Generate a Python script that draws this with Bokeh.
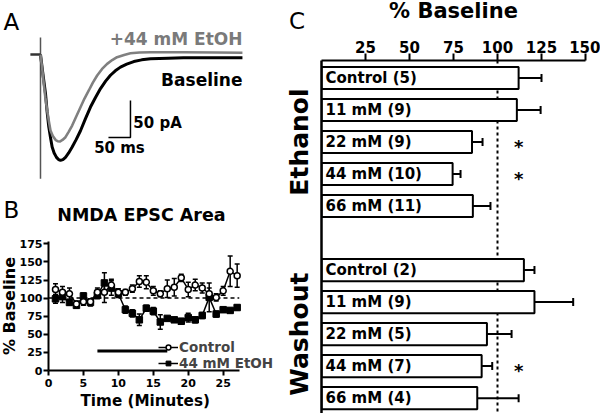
import math
from bokeh.plotting import figure
from bokeh.models import (Range1d, Label, Whisker, TeeHead, ColumnDataSource,
                          FixedTicker, Legend, LegendItem, Span, Title)
from bokeh.layouts import row, column
from bokeh.embed import file_html
from bokeh.resources import INLINE
from bokeh.core.properties import value

FONT = "DejaVu Sans"

# ---------------- Panel A data: EPSC traces, time (ms) / current (pA)
etoh_t = [0, 4, 7.5, 11, 15.2, 19, 22.7, 28, 34.1, 39, 43.9, 50, 56.8, 64, 72, 81, 90.9, 100, 109.8, 119, 128.8, 140, 151.5, 163, 174, 190, 204.5, 225, 250, 290, 325, 400, 459]
etoh_i = [0, -20, -39.6, -58, -75.7, -90, -102.7, -110, -115.3, -117.2, -117.6, -115.5, -111.7, -104.5, -96, -84, -71.2, -59.5, -48.6, -38, -28.4, -19.5, -12.6, -7.5, -3.6, -0.5, 1.8, 2.8, 3.1, 3.1, 3.1, 2.7, 2.3]
base_t = [0, 5, 11.4, 15, 18.9, 23, 26.5, 31, 36.4, 41, 45.5, 51, 56.8, 64, 72, 81, 90.9, 102, 113.6, 125, 136.4, 148, 159, 170, 181.8, 196, 212, 230, 250, 290, 325, 400, 459]
base_i = [0, -24, -53, -77, -98, -113, -125, -133, -139, -142, -143, -142, -139, -133, -125, -115, -103, -87, -71, -58, -46, -36, -28, -22, -17, -13, -9.5, -7.2, -5.8, -5, -4.5, -4.5, -4.5]
artifact_t = 0
artifact_top, artifact_bottom = 23, -168
prestim_t = [-23, 0]
prestim_i = [0, 0]
scale_ms, scale_pa = 50, 50

# ---------------- Panel B data: NMDA EPSC area (% baseline) vs time (min)
minutes = list(range(1, 28))
ctrl_mean = [112, 108, 106, 92, 95, 95, 108, 108, 118, 108, 108, 113, 123, 122, 110, 106, 113, 115, 128, 112, 118, 114, 106, 101, 110, 137, 131]
ctrl_sem = [8, 8, 8, 4, 5, 4, 6, 14, 8, 5, 4, 5, 8, 9, 6, 4, 12, 12, 5, 10, 8, 7, 8, 5, 6, 21, 16]
etoh_mean = [99, 102, 94, 90, 103, 94, 104, 121, 114, 106, 84, 79, 70, 86, 82, 67, 72, 70, 68, 73, 70, 76, 101, 78, 84, 83, 87]
etoh_sem = [6, 8, 4, 4, 4, 5, 5, 14, 10, 5, 5, 5, 8, 4, 5, 10, 3, 3, 4, 6, 4, 4, 20, 4, 3, 3, 3]
bath_on, bath_off, bath_level = 7, 17, 27
b_xmax = 27.3
b_yticks = [0, 25, 50, 75, 100, 125, 150, 175]
b_xticks = [0, 5, 10, 15, 20, 25]

# ---------------- Panel C data: % baseline by concentration
eth_labels = ["Control (5)", "11 mM (9)", "22 mM (9)", "44 mM (10)", "66 mM (11)"]
eth_mean = [112, 111, 85.5, 74.5, 86]
eth_sem = [13, 13.5, 6, 4.5, 10]
eth_sig = [False, False, True, True, False]
wash_labels = ["Control (2)", "11 mM (9)", "22 mM (5)", "44 mM (7)", "66 mM (4)"]
wash_mean = [115, 121, 94, 91, 88.5]
wash_sem = [6, 22, 14, 6, 23.5]
wash_sig = [False, False, False, True, False]
c_xticks = [25, 50, 75, 100, 125, 150]


def clean(p):
    p.outline_line_color = None
    p.grid.visible = False
    p.background_fill_color = "white"
    p.border_fill_color = "white"


def lab(p, x, y, text, size, bold=True, align="left", angle=0, color="black"):
    p.add_layout(Label(x=x, y=y, text=text, text_font=FONT, text_font_size=size,
                       text_font_style="bold" if bold else "normal", text_align=align,
                       text_baseline="middle", angle=angle, text_color=color))


def style_axis(ax, size, tick_out, standoff):
    ax.axis_line_width = 2
    ax.major_tick_line_width = 2
    ax.major_tick_out = tick_out
    ax.major_tick_in = 0
    ax.minor_tick_line_color = None
    ax.major_label_text_font = FONT
    ax.major_label_text_font_style = "bold"
    ax.major_label_text_font_size = size
    ax.major_label_standoff = standoff
    ax.major_label_text_color = "black"


# ================= Panel A (also holds the "B" letter and panel B title)
pa = figure(width=280, height=228, output_backend="svg", toolbar_location=None,
            x_range=Range1d(-90.9, 545.5), y_range=Range1d(-235.1, 73.0),
            x_axis_location=None, y_axis_location=None, min_border=0, frame_align=False)
clean(pa)
pa.segment(x0=[artifact_t], y0=[artifact_top], x1=[artifact_t], y1=[artifact_bottom],
           line_color="#555555", line_width=1.5)
pa.line(prestim_t, prestim_i, line_color="#333333", line_width=2.5)
pa.line(base_t, base_i, line_color="black", line_width=3)
pa.line(etoh_t, etoh_i, line_color="#808080", line_width=2.6)
sb_t, sb_i = 204.5, -112.2
pa.line([sb_t - scale_ms, sb_t, sb_t], [sb_i, sb_i, sb_i + scale_pa], line_color="black", line_width=1.5)
lab(pa, -84, 44.6, "A", "23px", bold=False)
lab(pa, 459, 20.3, "+44 mM EtOH", "17px", align="right", color="#7a7a7a")
lab(pa, 459, -33.8, "Baseline", "17px", align="right")
lab(pa, 211, -93.2, "50 pA", "15px")
lab(pa, 179.5, -126, "50 ms", "15px", align="center")
lab(pa, -84, -209.5, "B", "23px", bold=False)
lab(pa, 229.5, -216.2, "NMDA EPSC Area", "17.5px", align="center")

# ================= Panel B
pb = figure(width=280, height=185, output_backend="svg", toolbar_location=None,
            x_range=Range1d(0, 32.63), y_range=Range1d(0, 178.2),
            min_border_left=43, min_border_right=4, min_border_top=13, min_border_bottom=43,
            frame_align=False)
clean(pb)
pb.xaxis.ticker = FixedTicker(ticks=b_xticks)
pb.yaxis.ticker = FixedTicker(ticks=b_yticks)
pb.xaxis.bounds = (0, b_xmax)
style_axis(pb.xaxis[0], "11px", 5, 3)
style_axis(pb.yaxis[0], "11px", 5, 1)
pb.add_layout(Title(text="Time (Minutes)", align="left", offset=32, standoff=0,
                    text_font=FONT, text_font_style="bold", text_font_size="15.2px",
                    text_color="black"), "below")
pb.add_layout(Title(text="% Baseline", align="center", offset=13, standoff=-5,
                    text_font=FONT, text_font_style="bold", text_font_size="16px",
                    text_color="black"), "left")
pb.line([0, b_xmax], [100, 100], line_color="black", line_width=1.5, line_dash="4 3")
pb.line([bath_on, bath_off], [bath_level, bath_level], line_color="black", line_width=3)

src_c = ColumnDataSource(dict(t=minutes, m=ctrl_mean,
                              lo=[m - s for m, s in zip(ctrl_mean, ctrl_sem)],
                              hi=[m + s for m, s in zip(ctrl_mean, ctrl_sem)]))
src_e = ColumnDataSource(dict(t=minutes, m=etoh_mean,
                              lo=[m - s for m, s in zip(etoh_mean, etoh_sem)],
                              hi=[m + s for m, s in zip(etoh_mean, etoh_sem)]))
for src in (src_e, src_c):
    pb.add_layout(Whisker(source=src, base="t", lower="lo", upper="hi", line_width=1.5,
                          line_color="black",
                          upper_head=TeeHead(size=5, line_width=1.5, line_color="black"),
                          lower_head=TeeHead(size=5, line_width=1.5, line_color="black")))
el = pb.line("t", "m", source=src_e, line_color="black", line_width=1.5)
es = pb.scatter("t", "m", source=src_e, marker="square", size=6.5, fill_color="black", line_color="black")
cl = pb.line("t", "m", source=src_c, line_color="black", line_width=1.5)
cs = pb.scatter("t", "m", source=src_c, marker="circle", size=6, fill_color="white",
                line_color="black", line_width=1.5)
legend = Legend(items=[LegendItem(label="Control", renderers=[cl, cs]),
                       LegendItem(label="44 mM EtOH", renderers=[el, es])],
                location=(110, -1), border_line_color=None, background_fill_alpha=0,
                padding=0, margin=0, spacing=0, glyph_width=20, glyph_height=12,
                label_height=12, label_standoff=1, label_text_font=FONT,
                label_text_font_style="bold", label_text_font_size="13.5px")
pb.add_layout(legend)

# ================= Panel C header ("C" and the axis title)
ppx = 264 / 150.0
pch = figure(width=320, height=33, output_backend="svg", toolbar_location=None,
             x_range=Range1d(-41 / ppx, 279 / ppx), y_range=Range1d(33, 0),
             x_axis_location=None, y_axis_location=None, min_border=0, frame_align=False)
clean(pch)
lab(pch, -18.5, 20.5, "C", "23px", bold=False)
lab(pch, 75, 10.5, "% Baseline", "21px", align="center")

# ================= Panel C body
pc = figure(width=320, height=380, output_backend="svg", toolbar_location=None,
            x_range=Range1d(0, 150), y_range=Range1d(10.48, -0.547),
            x_axis_location="above", frame_align=False,
            min_border_left=41, min_border_right=15, min_border_top=27, min_border_bottom=0)
clean(pc)
pc.xaxis.ticker = FixedTicker(ticks=c_xticks)
style_axis(pc.xaxis[0], "15px", 7, 1)

eth_slots = list(range(len(eth_labels)))
wash_slots = [len(eth_labels) + 1 + i for i in range(len(wash_labels))]
slots = eth_slots + wash_slots
labels = eth_labels + wash_labels
means = eth_mean + wash_mean
sems = eth_sem + wash_sem
sigs = eth_sig + wash_sig

group_y = [sum(eth_slots) / len(eth_slots), sum(wash_slots) / len(wash_slots)]
yax = pc.yaxis[0]
yax.ticker = FixedTicker(ticks=group_y)
yax.major_label_overrides = {group_y[0]: "Ethanol", group_y[1]: "Washout"}
yax.major_label_orientation = "vertical"
yax.axis_line_width = 2.5
yax.major_tick_line_color = None
yax.major_tick_out = 0
yax.major_tick_in = 0
yax.minor_tick_line_color = None
yax.major_label_text_font = FONT
yax.major_label_text_font_style = "bold"
yax.major_label_text_font_size = "25px"
yax.major_label_standoff = 7
yax.major_label_text_color = "black"

pc.add_layout(Span(location=100, dimension="height", line_color="black", line_width=2,
                   line_dash="3 3", level="underlay"))

src_bar = ColumnDataSource(dict(y=slots, m=means, label=labels,
                                lo=[m - s for m, s in zip(means, sems)],
                                hi=[m + s for m, s in zip(means, sems)]))
pc.hbar(y="y", left=0, right="m", height=0.69, source=src_bar, fill_color="white",
        line_color="black", line_width=2)
pc.add_layout(Whisker(source=src_bar, base="y", lower="lo", upper="hi", dimension="width",
                      line_width=2, line_color="black",
                      upper_head=TeeHead(size=8, line_width=2, line_color="black"),
                      lower_head=TeeHead(size=8, line_width=2, line_color="black")))
pc.text(x=0, y="y", text="label", source=src_bar, x_offset=4, text_font=value(FONT),
        text_font_style="bold", text_font_size="15px", text_baseline="middle",
        text_align="left", text_color="black")
sig_y = [s for s, g in zip(slots, sigs) if g]
pc.text(x=[112] * len(sig_y), y=sig_y, text=["*"] * len(sig_y), text_font=value(FONT),
        text_font_style="bold", text_font_size="18px", text_baseline="middle",
        text_align="center", y_offset=4, text_color="black")

layout = row(column(pa, pb), column(pch, pc))
open("out.html", "w").write(file_html(layout, INLINE))
